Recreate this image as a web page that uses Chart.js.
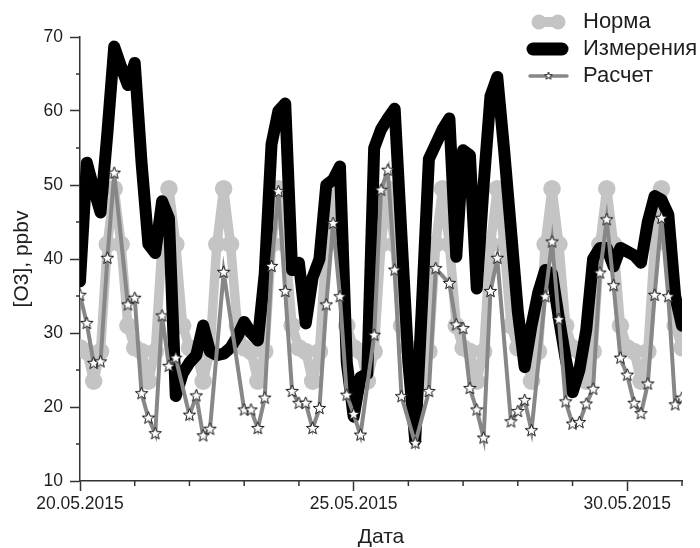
<!DOCTYPE html>
<html>
<head>
<meta charset="utf-8">
<script src="https://cdn.jsdelivr.net/npm/chart.js@4.4.0/dist/chart.umd.min.js"></script>
<style>
  html, body { margin: 0; padding: 0; background: #fff; }
</style>
</head>
<body>
<canvas id="c" width="700" height="548"></canvas>
<script>
// 3-hourly values, 20.05.2015 00:00 .. 31.05.2015 00:00
const stepHours = 3;

const normValues = [
  28, 27.5, 23.5, 27.5, 42, 49.5, 42, 31,
  28, 27.5, 23.5, 27.5, 42, 49.5, 42, 31,
  28, 27.5, 23.5, 27.5, 42, 49.5, 42, 31,
  28, 27.5, 23.5, 27.5, 42, 49.5, 42, 31,
  28, 27.5, 23.5, 27.5, 42, 49.5, 42, 31,
  28, 27.5, 23.5, 27.5, 42, 49.5, 42, 31,
  28, 27.5, 23.5, 27.5, 42, 49.5, 42, 31,
  28, 27.5, 23.5, 27.5, 42, 49.5, 42, 31,
  28, 27.5, 23.5, 27.5, 42, 49.5, 42, 31,
  28, 27.5, 23.5, 27.5, 42, 49.5, 42, 31,
  28, 27.5, 23.5, 27.5, 42, 49.5, 42, 31,
  28
];

const measValues = [
  37, 53, 49.5, 46.3, 57, 68.7, 66, 63.5,
  66.5, 53, 42, 40.8, 47.8, 45.5, 21.5, 24.5,
  26, 27, 31, 27.5, 27, 27.2, 28, 29.5,
  31.5, 30, 29, 38, 55.5, 60, 61, 38.5,
  39.5, 31.3, 37.5, 40, 50, 50.7, 52.5, 26,
  18.7, 24, 24.5, 55, 57.5, 59, 60.3, 43,
  26, 15.5, 34, 53.5, 55.5, 57.5, 59, 40.3,
  54.7, 54, 36, 50, 62, 64.6, 54.7, 43.9,
  32.9, 25.4, 31, 35.5, 38.5, 38, 32, 26.5,
  22, 25, 30.4, 40, 41.5, 41.5, 39, 41.5,
  41, 40.5, 39.5, 45, 48.5, 48, 46, 35,
  31
];

const calcValues = [
  35.1, 31.3, 25.9, 26.1, 40.1, 51.6, null, 33.8,
  34.7, 21.8, 18.5, 16.4, 32.3, 25.5, 26.6, null,
  18.9, 21.5, 16.1, 17.0, null, 38.2, null, null,
  19.6, 19.6, 17.1, 21.2, 39.0, 49.1, 35.6, 22.1,
  20.5, 20.5, 17.1, 19.8, 33.8, 44.8, 34.9, 21.6,
  19.0, 16.2, null, 29.7, 49.3, 52.0, 38.5, 21.4,
  null, 15.1, null, 22.1, 38.7, null, 36.7, 31.1,
  30.6, 22.5, 19.6, 15.8, 35.6, 40.1, null, 18.0,
  19.4, 20.9, 16.8, null, 34.9, 42.3, 31.8, 20.7,
  17.7, 17.9, 20.4, 22.4, 38.1, 45.3, 36.4, 26.6,
  24.3, 20.5, 19.1, 23.1, 35.1, 45.5, 34.9, 20.3,
  21.2
];

const seriesNames = ['Норма', 'Измерения', 'Расчет'];
const majorDays = [0, 5, 10];
const dateLabels = ['20.05.2015', '25.05.2015', '30.05.2015'];
const minorDays = [1, 2, 3, 4, 6, 7, 8, 9, 11];
const yMajor = [10, 20, 30, 40, 50, 60, 70];
const yMinor = [15, 25, 35, 45, 55, 65];

const normColor = '#c4c4c4';
const calcColor = '#878787';
const axisColor = '#333';
const textColor = '#1e1e1e';
const fontFamily = "'Liberation Sans', Arial, sans-serif";

const toPoints = vals => vals.map((v, i) => ({ x: i * stepHours, y: v }));

function starCanvas(r, lw) {
  const size = Math.ceil(r * 2 + lw * 2 + 2);
  const cv = document.createElement('canvas');
  cv.width = cv.height = size;
  const g = cv.getContext('2d');
  const c = size / 2;
  g.beginPath();
  for (let k = 0; k < 10; k++) {
    const rad = k % 2 ? r * 0.42 : r;
    const a = -Math.PI / 2 + k * Math.PI / 5;
    g.lineTo(c + rad * Math.cos(a), c + rad * Math.sin(a));
  }
  g.closePath();
  g.fillStyle = '#fff';
  g.fill();
  g.lineWidth = lw;
  g.strokeStyle = '#111';
  g.stroke();
  return cv;
}

const starBig = starCanvas(6.5, 1);
const starSmall = starCanvas(4, 0.9);

// minor ticks on both axes
const minorTicks = {
  id: 'minorTicks',
  afterDraw(chart) {
    const { ctx, scales: { x, y } } = chart;
    ctx.save();
    ctx.strokeStyle = axisColor;
    ctx.lineWidth = 1.5;
    ctx.beginPath();
    minorDays.forEach(d => {
      const px = x.getPixelForValue(d * 24);
      ctx.moveTo(px, x.top);
      ctx.lineTo(px, x.top + 5);
    });
    yMinor.forEach(v => {
      const py = y.getPixelForValue(v);
      ctx.moveTo(y.right, py);
      ctx.lineTo(y.right - 4, py);
    });
    ctx.stroke();
    ctx.restore();
  }
};

// legend in the top right corner, one row per series
const cornerLegend = {
  id: 'cornerLegend',
  afterDraw(chart) {
    const { ctx } = chart;
    const x0 = 527, x1 = 568, tx = 583;
    const rows = [22, 49, 76];
    ctx.save();
    ctx.lineCap = 'round';

    // Норма
    ctx.strokeStyle = normColor;
    ctx.fillStyle = normColor;
    ctx.lineWidth = 10;
    ctx.beginPath();
    ctx.moveTo(x0 + 12, rows[0]);
    ctx.lineTo(x1 - 10, rows[0]);
    ctx.stroke();
    [x0 + 12, x1 - 10].forEach(cx => {
      ctx.beginPath();
      ctx.arc(cx, rows[0], 7.5, 0, Math.PI * 2);
      ctx.fill();
    });

    // Измерения
    ctx.strokeStyle = '#000';
    ctx.lineWidth = 13;
    ctx.beginPath();
    ctx.moveTo(x0 + 6, rows[1]);
    ctx.lineTo(x1 - 6, rows[1]);
    ctx.stroke();

    // Расчет
    ctx.strokeStyle = calcColor;
    ctx.lineWidth = 3.5;
    ctx.beginPath();
    ctx.moveTo(x0 + 3, rows[2]);
    ctx.lineTo(x1 - 1, rows[2]);
    ctx.stroke();
    ctx.drawImage(starSmall, (x0 + x1) / 2 - starSmall.width / 2 + 1, rows[2] - starSmall.height / 2);

    ctx.fillStyle = textColor;
    ctx.font = '22px ' + fontFamily;
    ctx.textBaseline = 'middle';
    ctx.textAlign = 'left';
    seriesNames.forEach((n, i) => ctx.fillText(n, tx, rows[i]));
    ctx.restore();
  }
};

new Chart(document.getElementById('c'), {
  type: 'line',
  data: {
    datasets: [
      {
        label: seriesNames[0],
        data: toPoints(normValues),
        borderColor: normColor,
        backgroundColor: normColor,
        borderWidth: 9.5,
        pointRadius: 8.8,
        pointBorderWidth: 0,
        pointBackgroundColor: normColor,
        borderJoinStyle: 'round',
        borderCapStyle: 'round',
        order: 3
      },
      {
        label: seriesNames[1],
        data: toPoints(measValues),
        borderColor: '#000',
        borderWidth: 12,
        pointRadius: 0,
        borderJoinStyle: 'round',
        borderCapStyle: 'round',
        order: 2
      },
      {
        label: seriesNames[2],
        data: toPoints(calcValues),
        borderColor: calcColor,
        borderWidth: 4,
        pointStyle: starBig,
        pointRadius: 6,
        spanGaps: true,
        order: 1
      }
    ]
  },
  options: {
    responsive: false,
    animation: false,
    devicePixelRatio: 1,
    layout: { padding: { top: 37, right: 18, left: 0, bottom: 0 } },
    plugins: {
      legend: { display: false },
      tooltip: { enabled: false }
    },
    scales: {
      x: {
        type: 'linear',
        min: 0,
        max: 264,
        afterFit: s => { s.height = 67; },
        afterBuildTicks: s => { s.ticks = majorDays.map(d => ({ value: d * 24 })); },
        ticks: {
          autoSkip: false,
          maxRotation: 0,
          padding: 3,
          color: textColor,
          font: { family: fontFamily, size: 17.5 },
          callback: (v, i) => dateLabels[i]
        },
        grid: {
          drawOnChartArea: false,
          tickLength: 10,
          tickColor: axisColor,
          tickWidth: 1.5
        },
        border: { color: axisColor, width: 1.5 },
        title: {
          display: true,
          text: 'Дата',
          color: textColor,
          font: { family: fontFamily, size: 21 },
          padding: { top: 0, bottom: -2 }
        }
      },
      y: {
        min: 10,
        max: 70,
        afterFit: s => { s.width = 80; },
        afterBuildTicks: s => { s.ticks = yMajor.map(v => ({ value: v })); },
        ticks: {
          padding: 7,
          color: textColor,
          font: { family: fontFamily, size: 17.5 }
        },
        grid: {
          drawOnChartArea: false,
          tickLength: 10,
          tickColor: axisColor,
          tickWidth: 1.5
        },
        border: { color: axisColor, width: 1.5 },
        title: {
          display: true,
          text: '[O3], ppbv',
          color: textColor,
          font: { family: fontFamily, size: 21 },
          padding: { top: 10, bottom: 0 }
        }
      }
    }
  },
  plugins: [minorTicks, cornerLegend]
});
</script>
</body>
</html>
